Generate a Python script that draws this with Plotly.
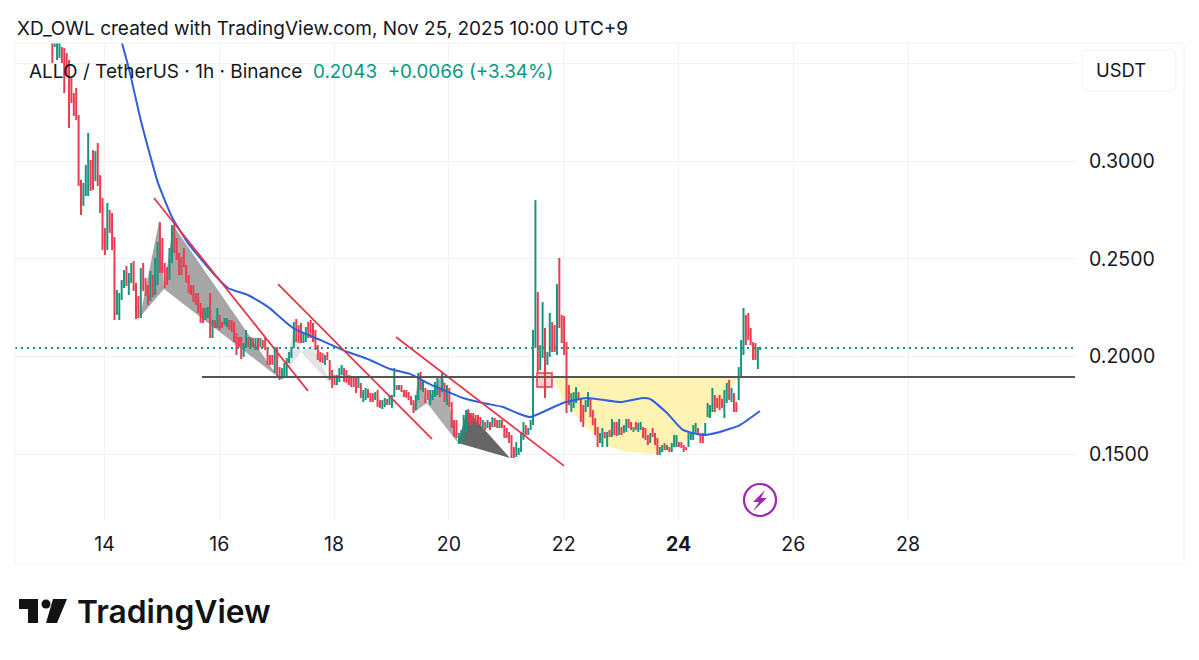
import plotly.graph_objects as go

# hourly bars
first_bar_day = 13.0906

highs = [
    .3620, .3630, .3630, .3630, .3584, .3579, .3553, .3517, .3425, .3348,
    .3374, .3236, .2903, .2888, .2980, .3144, .3005, .3056, .3051, .3092,
    .2928, .2811, .2657, .2785, .2749, .2734, .2611, .2340, .2324, .2391,
    .2442, .2463, .2427, .2478, .2488, .2376, .2309, .2452, .2478, .2401,
    .2365, .2437, .2416, .2504, .2585, .2688, .2606, .2478, .2457, .2555,
    .2672, .2683, .2606, .2529, .2509, .2555, .2468, .2416, .2365, .2365,
    .2324, .2324, .2273, .2248, .2248, .2253, .2324, .2186, .2186, .2248,
    .2212, .2176, .2196, .2196, .2186, .2186, .2176, .2120, .2099, .2099,
    .2068, .2135, .2099, .2099, .2094, .2094, .2094, .2094, .2084, .2094,
    .2048, .2007, .2007, .2048, .2048, .1945, .1940, .1966, .1992, .2022,
    .2048, .2176, .2191, .2160, .2171, .2120, .2150, .2176, .2186, .2171,
    .2135, .2058, .2022, .2017, .2007, .2022, .1981, .1930, .1904, .1904,
    .1940, .1956, .1940, .1930, .1904, .1894, .1894, .1894, .1894, .1864,
    .1828, .1838, .1833, .1812, .1812, .1817, .1828, .1776, .1776, .1787,
    .1782, .1802, .1802, .1940, .1853, .1853, .1853, .1828, .1828, .1817,
    .1797, .1776, .1802, .1915, .1920, .1879, .1838, .1828, .1828, .1828,
    .1869, .1889, .1843, .1915, .1864, .1853, .1838, .1766, .1674, .1674,
    .1608, .1623, .1700, .1725, .1730, .1710, .1710, .1700, .1700, .1689,
    .1674, .1664, .1674, .1664, .1689, .1684, .1674, .1674, .1674, .1648,
    .1633, .1613, .1597, .1536, .1561, .1531, .1613, .1664, .1648, .1633,
    .1674, .2135, .2800, .2329, .2058, .2278, .2145, .2022, .2222, .2176,
    .2160, .2370, .2504, .2212, .2207, .2073, .1853, .1812, .1817, .1843,
    .1817, .1787, .1751, .1776, .1817, .1787, .1725, .1684, .1638, .1608,
    .1633, .1613, .1613, .1623, .1679, .1664, .1664, .1679, .1638, .1648,
    .1679, .1679, .1664, .1638, .1664, .1659, .1664, .1638, .1633, .1597,
    .1608, .1633, .1608, .1582, .1536, .1546, .1556, .1546, .1536, .1556,
    .1597, .1597, .1561, .1561, .1546, .1536, .1608, .1613, .1648, .1659,
    .1633, .1608, .1608, .1659, .1761, .1751, .1838, .1802, .1787, .1802,
    .1782, .1828, .1864, .1879, .1838, .1812, .1766, .1945, .2084, .2248,
    .2212, .2222, .2145, .2073, .2068, .2048, .2048,
]
lows = [
    .3502, .3584, .3517, .3528, .3502, .3348, .3435, .3169, .3297, .3231,
    .3210, .2872, .2724, .2770, .2821, .2821, .2847, .2852, .2898, .2872,
    .2734, .2544, .2519, .2544, .2632, .2544, .2186, .2212, .2186, .2288,
    .2350, .2360, .2314, .2376, .2335, .2191, .2196, .2196, .2335, .2309,
    .2263, .2283, .2304, .2314, .2365, .2427, .2427, .2350, .2365, .2391,
    .2478, .2529, .2493, .2416, .2416, .2457, .2376, .2324, .2314, .2278,
    .2263, .2222, .2171, .2171, .2186, .2196, .2094, .2094, .2145, .2145,
    .2135, .2145, .2160, .2150, .2135, .2125, .2073, .2007, .2048, .1986,
    .1997, .2043, .2048, .2048, .2043, .2032, .2032, .2048, .2043, .2032,
    .1956, .1956, .1956, .1915, .1889, .1879, .1884, .1889, .1894, .1966,
    .1992, .2043, .2073, .2068, .2068, .2068, .2073, .2094, .2094, .2073,
    .2032, .1981, .1971, .1966, .1956, .1981, .1879, .1838, .1853, .1853,
    .1869, .1904, .1869, .1864, .1853, .1843, .1843, .1812, .1838, .1787,
    .1766, .1776, .1787, .1766, .1766, .1776, .1741, .1736, .1730, .1741,
    .1751, .1751, .1736, .1792, .1828, .1828, .1817, .1792, .1787, .1776,
    .1751, .1710, .1725, .1776, .1828, .1817, .1761, .1776, .1751, .1776,
    .1792, .1802, .1792, .1817, .1766, .1751, .1741, .1633, .1587, .1582,
    .1551, .1556, .1572, .1613, .1659, .1648, .1664, .1659, .1648, .1648,
    .1633, .1623, .1633, .1623, .1638, .1638, .1633, .1633, .1633, .1582,
    .1582, .1556, .1480, .1480, .1485, .1495, .1510, .1572, .1597, .1597,
    .1623, .1648, .2043, .1920, .1930, .1992, .1787, .1956, .1997, .2022,
    .2022, .2007, .2145, .2068, .2007, .1710, .1751, .1715, .1736, .1761,
    .1776, .1664, .1638, .1715, .1741, .1689, .1648, .1597, .1536, .1556,
    .1536, .1582, .1536, .1587, .1587, .1597, .1592, .1597, .1597, .1608,
    .1613, .1633, .1623, .1613, .1623, .1613, .1623, .1582, .1572, .1546,
    .1556, .1587, .1546, .1495, .1495, .1510, .1520, .1520, .1510, .1510,
    .1536, .1536, .1536, .1531, .1510, .1520, .1536, .1572, .1572, .1608,
    .1597, .1556, .1556, .1597, .1689, .1684, .1715, .1715, .1736, .1725,
    .1736, .1684, .1761, .1776, .1766, .1715, .1715, .1776, .1889, .2007,
    .2058, .2084, .2058, .1981, .1981, .1935, .2032,
]
# R = closed down, G = closed up
directions = (
    "RGGGRRRRRR" "RRRGGGRRGR" "RRRGRRRGGG" "GRGGRRRGRR" "RGRGGRRRRG"
    "GRRRRRRRRR" "RRRRGGRGRG" "RRGGRRRRRR" "GGRGRGRGRR" "RRRGRRGGGG"
    "GGRRRGGRRR" "RRRRGRRRRG" "GGRRRRRRGR" "GGRRRGRRGG" "RGGGRGRRRR"
    "RRGGRGRRGG" "GGRGRGRRRR" "GGGGRRRRRR" "GRGRGRRGRR" "RRRRGGGGRG"
    "GGGRGGRGGR" "RGRRRRRGGG" "RRRGGRRRRG" "GRGRGRRGRG" "GRRGRGGRRR"
    "GRRRGGRGRG" "GGRRRRGGGG" "RRRGGGGRRR" "RGGRGRRGGG" "RRRRRGG"
)

# moving average
ma_days = [14.305, 14.444, 14.618, 14.793, 14.932, 15.176, 15.455, 15.873, 16.152, 16.5, 16.848, 17.284,
           17.754, 18.155, 18.625, 18.974, 19.322, 19.619, 19.897, 20.246, 20.594, 20.943, 21.187, 21.413,
           21.639, 21.988, 22.406, 22.981, 23.382, 23.503, 23.8, 24.078, 24.427, 24.721, 25.07, 25.418]
ma_values = [.3604, .3451, .3225, .3031, .2888, .2713, .2580, .2432, .2350, .2314, .2253, .2145,
             .2084, .2032, .1981, .1935, .1910, .1864, .1828, .1787, .1761, .1741, .1710, .1689,
             .1715, .1761, .1787, .1766, .1787, .1782, .1710, .1623, .1597, .1613, .1648, .1720]

# drawings on the chart: (day, price)
trend_lines = [
    [(14.862, .2811), (17.545, .1823)],
    [(17.023, .2370), (19.705, .1577)],
    [(19.078, .2099), (22.005, .1439)],
]
# each pattern is two triangles sharing the middle point
patterns = [
    ([(14.618, .2201), (14.949, .2688), (15.037, .2345)], "#a6a6a6"),
    ([(15.037, .2345), (15.193, .2672), (17.023, .1894)], "#a6a6a6"),
    ([(17.092, .1894), (17.301, .2135), (17.423, .2022)], "#e3e3e3"),
    ([(17.423, .2022), (17.615, .2058), (17.98, .1843)], "#e3e3e3"),
    ([(19.375, .1710), (19.479, .1920), (19.619, .1761)], "#adadad"),
    ([(19.619, .1761), (19.880, .1915), (20.159, .1556)], "#adadad"),
    ([(20.159, .1556), (20.315, .1725), (21.064, .1480)], "#666666"),
]
cup = [(21.813, .1894), (22.022, .1761), (22.319, .1664), (22.58, .1582), (22.807, .1536), (23.103, .1510),
       (23.503, .1500), (23.8, .1510), (24.148, .1572), (24.427, .1659), (24.671, .1725), (25.037, .1889)]
entry_box = (21.535, 21.796, .1843, .1915)
support_start = 15.699
support_price = .1894
last_price = .2043

price_ticks = [.15, .20, .25, .30, .35]
price_labels = ["0.1500", "0.2000", "0.2500", "0.3000", ""]
day_ticks = [14, 16, 18, 20, 22, 24, 26, 28]
day_labels = ["14", "16", "18", "20", "22", "<b>24</b>", "26", "28"]

UP = "#13967f"
DOWN = "#ec3b50"
FONT = "Inter"
TEXT = "#131722"

# plot area in the 1199x660 page
LEFT, RIGHT, TOP, BOTTOM = 15, 1075, 43, 520


def px(x):
    return (x - LEFT) / (RIGHT - LEFT)


def py(y):
    return (BOTTOM - y) / (BOTTOM - TOP)


def poly_path(points):
    return "M " + " L ".join(f"{x},{y}" for x, y in points) + " Z"


def paper_path(points):
    return poly_path([(px(x), py(y)) for x, y in points])


bar_days = [first_bar_day + i / 24 for i in range(len(highs))]
opens = [lo if d == "G" else hi for hi, lo, d in zip(highs, lows, directions)]
closes = [hi if d == "G" else lo for hi, lo, d in zip(highs, lows, directions)]

fig = go.Figure()
# at this zoom the bars read as plain sticks, so ohlc without ticks
fig.add_trace(go.Ohlc(
    x=bar_days, open=opens, high=highs, low=lows, close=closes, tickwidth=0,
    increasing=dict(line=dict(color=UP, width=2)),
    decreasing=dict(line=dict(color=DOWN, width=2)),
))
fig.add_trace(go.Scatter(x=ma_days, y=ma_values, mode="lines", line=dict(color="#2f5fdc", width=2, shape="spline", smoothing=0.5)))

shapes = []
# cup and patterns sit over the grid, under the bars
shapes.append(dict(type="path", path=poly_path(cup), xref="x", yref="y", layer="between",
                   fillcolor="#fff3b3", line=dict(width=0)))
for points, colour in patterns:
    shapes.append(dict(type="path", path=poly_path(points), xref="x", yref="y", layer="between",
                       fillcolor=colour, line=dict(width=0)))
for (x0, y0), (x1, y1) in trend_lines:
    shapes.append(dict(type="line", x0=x0, y0=y0, x1=x1, y1=y1, xref="x", yref="y",
                       line=dict(color="#e5394a", width=1.8)))
shapes.append(dict(type="line", x0=support_start, x1=14 + (RIGHT - 104.5) / 57.4, y0=support_price, y1=support_price,
                   xref="x", yref="y", line=dict(color="#555555", width=2)))
shapes.append(dict(type="line", x0=0, x1=1, y0=last_price, y1=last_price, xref="paper", yref="y",
                   line=dict(color="#089981", width=2, dash="2px,4px")))
shapes.append(dict(type="rect", x0=entry_box[0], x1=entry_box[1], y0=entry_box[2], y1=entry_box[3],
                   xref="x", yref="y", fillcolor="rgba(242,54,69,0.25)", line=dict(color="#e5394a", width=1.5)))
# frame around the chart
shapes.append(dict(type="rect", xref="paper", yref="paper", x0=px(15), x1=px(1184), y0=py(564), y1=py(43),
                   line=dict(color="#f1f2f5", width=1)))
# currency button
shapes.append(dict(type="path", xref="paper", yref="paper",
                   path=f"M {px(1088)},{py(50)} L {px(1170)},{py(50)} Q {px(1176)},{py(50)} {px(1176)},{py(56)} "
                        f"L {px(1176)},{py(85)} Q {px(1176)},{py(91)} {px(1170)},{py(91)} L {px(1088)},{py(91)} "
                        f"Q {px(1082)},{py(91)} {px(1082)},{py(85)} L {px(1082)},{py(56)} Q {px(1082)},{py(50)} {px(1088)},{py(50)} Z",
                   fillcolor="white", line=dict(color="#f1f2f5", width=1)))
# lightning badge
shapes.append(dict(type="circle", xref="paper", yref="paper", x0=px(744), x1=px(776), y0=py(516), y1=py(484),
                   fillcolor="white", line=dict(color="#9c27b0", width=2.2)))
shapes.append(dict(type="path", xref="paper", yref="paper",
                   path=paper_path([(765, 490), (753, 502), (759, 502), (753, 511), (767, 498), (761, 498)]),
                   fillcolor="#9c27b0", line=dict(width=0)))
# TradingView logo
shapes.append(dict(type="path", xref="paper", yref="paper",
                   path=paper_path([(19, 599), (38, 599), (38, 623), (28, 623), (28, 609), (19, 609)]),
                   fillcolor="#131313", line=dict(width=0)))
shapes.append(dict(type="circle", xref="paper", yref="paper", x0=px(41.5), x1=px(50.5), y0=py(608.5), y1=py(599.5),
                   fillcolor="#131313", line=dict(width=0)))
shapes.append(dict(type="path", xref="paper", yref="paper",
                   path=paper_path([(53, 599), (67, 599), (57, 623), (46, 623)]),
                   fillcolor="#131313", line=dict(width=0)))


def label(x, y, text, size, color=TEXT, **kwargs):
    return dict(xref="paper", yref="paper", x=px(x), y=py(y), text=text, showarrow=False, xanchor="left",
                yanchor="middle", align="left", font=dict(family=FONT, size=size, color=color, **kwargs))


annotations = [
    label(15, 28, "XD_OWL created with TradingView.com, Nov 25, 2025 10:00 UTC+9", 19),
    label(27, 71, "ALLO / TetherUS · 1h · Binance", 19),
    label(311, 71, "0.2043  +0.0066 (+3.34%)", 18.85, color="#089981"),
    label(1094, 70, "USDT", 18.4),
    label(75, 611, "TradingView", 31.8, color="#131313", weight=600),
]

fig.update_layout(
    width=1199, height=660,
    margin=dict(l=LEFT, r=1199 - RIGHT, t=TOP, b=660 - BOTTOM),
    paper_bgcolor="white", plot_bgcolor="white",
    showlegend=False,
    shapes=shapes, annotations=annotations,
    font=dict(family=FONT, size=19.5, color=TEXT),
    xaxis=dict(range=[14 + (LEFT - 104.5) / 57.4, 14 + (RIGHT - 104.5) / 57.4], tickmode="array", tickvals=day_ticks,
               ticktext=day_labels, showgrid=True, gridcolor="#f0f1f4", zeroline=False, showline=False,
               ticks="", rangeslider=dict(visible=False), ticklabelstandoff=10),
    yaxis=dict(range=[.15 + (454 - BOTTOM) * .000512, .15 + (454 - TOP) * .000512], side="right", tickmode="array",
               tickvals=price_ticks, ticktext=price_labels, showgrid=True, gridcolor="#f0f1f4", zeroline=False,
               showline=False, ticks="", ticklabelstandoff=13),
)

# page margin off so the plot lands at 0,0
fig.write_html("out.html", post_script="document.body.style.margin='0';", config={"displayModeBar": False})
